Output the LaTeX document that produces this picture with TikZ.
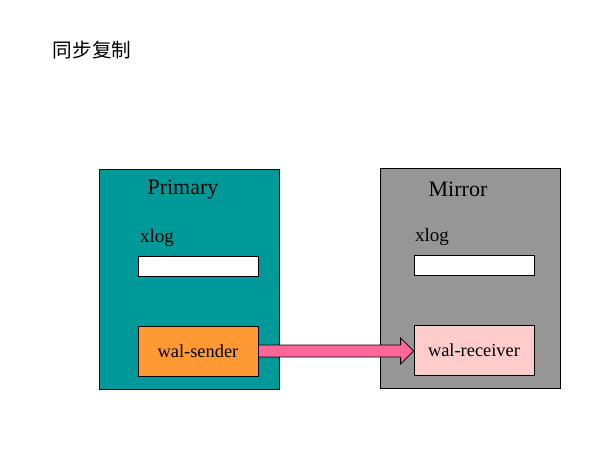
\documentclass[tikz,border=0pt]{standalone}
\usepackage{fontspec}
\setmainfont{Liberation Serif}
\newfontfamily\cjk{Noto Sans CJK SC}
\usetikzlibrary{calc}
\definecolor{teal1}{RGB}{0,153,153}
\definecolor{gray1}{RGB}{150,150,150}
\definecolor{orange1}{RGB}{255,153,51}
\definecolor{pink1}{RGB}{255,204,204}
\definecolor{arrowpink}{RGB}{255,102,153}
\tikzset{
  panel/.style={draw=black, line width=0.5pt, minimum width=90pt, minimum height=110pt, inner sep=0pt},
  logbox/.style={draw=black, line width=0.4pt, fill=white, minimum width=60pt, minimum height=10pt, inner sep=0pt},
  procbox/.style={draw=black, line width=0.4pt, minimum width=60pt, minimum height=25pt, inner sep=0pt, font=\fontsize{9.2}{11}\selectfont},
  ttl/.style={font=\fontsize{11}{13}\selectfont, inner sep=0pt},
  lbl/.style={font=\fontsize{9.5}{11}\selectfont, inner sep=0pt}
}
\begin{document}
\begin{tikzpicture}[x=0.5pt,y=-0.5pt]
\useasboundingbox (0,0) rectangle (600,450);
\node[inner sep=0pt, font=\cjk\fontsize{9.8}{11}\selectfont] (title) at (92,50) {同步复制};
% Primary
\node[panel, fill=teal1] (prim) at (189,279) {};
\node[ttl] (primt) at (183,190) {Primary};
\node[lbl] (pxl) at (157,238) {xlog};
\node[logbox] (pxb) at (198,266) {};
\node[procbox, fill=orange1] (ws) at (198,351) {wal-sender};
% Mirror
\node[panel, fill=gray1] (mir) at (470,278.5) {};
\node[ttl] (mirt) at (458,189) {Mirror};
\node[lbl] (mxl) at (432,237) {xlog};
\node[logbox] (mxb) at (474,265) {};
\node[procbox, fill=pink1] (wr) at (474,350) {wal-receiver};
% block arrow (horizontal, at the sender's height)
\coordinate (tip) at (ws.east -| wr.west);
\draw[fill=arrowpink, line width=0.4pt]
  ($(ws.east)+(0,-6)$) -- ($(tip)+(-13,-6)$) -- ($(tip)+(-13,-13)$)
  -- (tip) -- ($(tip)+(-13,13)$) -- ($(tip)+(-13,6)$)
  -- ($(ws.east)+(0,6)$) -- cycle;
\end{tikzpicture}
\end{document}
